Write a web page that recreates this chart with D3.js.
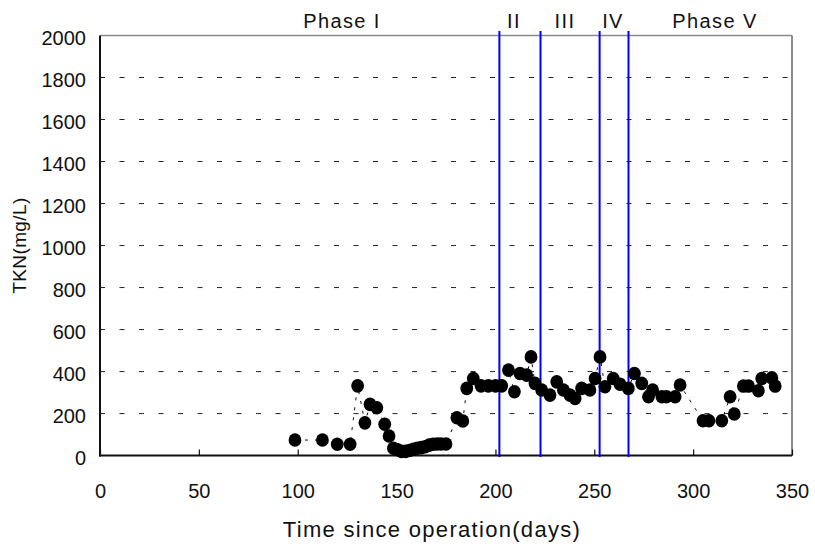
<!DOCTYPE html>
<html>
<head>
<meta charset="utf-8">
<script src="https://cdn.jsdelivr.net/npm/d3@7"></script>
<style>
  html, body { margin: 0; padding: 0; background: #fff; }
  svg { display: block; }
  text { font-family: "Liberation Sans", Arial, sans-serif; fill: #111; }
</style>
</head>
<body>
<svg id="chart" width="815" height="546"></svg>
<script>
// Days since start of operation for each TKN sample
const days = [
  98.6, 112.5, 120, 126.5, 130.3, 134, 136.6, 140, 144, 146.2, 148.4,
  150.5, 152.5, 154.5, 156.5, 158.5, 160.5, 162.5, 164.5, 166.5, 168.5, 170.5, 172.5, 175,
  180.5, 183.5, 185.5, 188.8, 192.7, 196.4, 200, 203.2, 206.6, 209.6, 212.4, 215.8, 218,
  220, 223.4, 227.6, 231, 234.4, 237.7, 240.3, 243.6, 247.8, 250.4, 252.9, 255.4, 259.6,
  263, 267.2, 270.3, 274, 277.4, 279.5, 284.2, 286.5, 290.9, 293.4,
  305, 308, 314.5, 318.7, 320.8, 325.4, 328, 333, 334.7, 339.8, 341.5
];
// Measured TKN (mg/L)
const tkn = [
  74, 74, 54, 54, 332, 156, 244, 228, 149, 93, 35,
  28, 20, 20, 24, 30, 35, 38, 42, 50, 54, 55, 55, 55,
  180, 165, 320, 367, 332, 332, 332, 332, 407, 304, 391, 383, 470,
  344, 312, 288, 351, 312, 288, 272, 320, 312, 367, 470, 328, 367,
  340, 320, 391, 344, 280, 312, 280, 280, 280, 336,
  166, 166, 166, 280, 198, 331, 331, 309, 367, 370, 331
];
// Boundaries between operating phases (days)
const phaseBounds = [202, 222.8, 252.7, 267.3];
const phaseNames = ["Phase I", "II", "III", "IV", "Phase V"];
const phaseLabelX = [342, 514, 565, 613, 715];
const xTicks = [0, 50, 100, 150, 200, 250, 300, 350];
const yTicks = [0, 200, 400, 600, 800, 1000, 1200, 1400, 1600, 1800, 2000];

const svg = d3.select("#chart");
const plotL = 100, plotR = 792, plotT = 35.5, plotB = 455.6;

const x = d3.scaleLinear().domain([0, 350]).range([plotL, plotR]);
const y = d3.scaleLinear().domain([0, 2000]).range([plotB, plotT]);

// Dashed horizontal gridlines (they start with the inward tick at the axis)
svg.append("g")
  .selectAll("line")
  .data(yTicks.filter(v => v > 0 && v < 2000))
  .join("line")
  .attr("x1", plotL).attr("x2", plotR)
  .attr("y1", d => y(d)).attr("y2", d => y(d))
  .attr("stroke", "#222").attr("stroke-width", 1)
  .attr("stroke-dasharray", "5,14.5");

// Frame: grey top and right, black left and bottom
svg.append("line").attr("x1", plotL).attr("x2", plotR).attr("y1", plotT).attr("y2", plotT)
  .attr("stroke", "#8a8a8a").attr("stroke-width", 1.5);
svg.append("line").attr("x1", plotR).attr("x2", plotR).attr("y1", plotT).attr("y2", plotB)
  .attr("stroke", "#8a8a8a").attr("stroke-width", 2);

// X axis with inward ticks
const xAxis = d3.axisBottom(x).tickValues(xTicks).tickSize(-6)
  .tickFormat(d3.format("d"));
const gx = svg.append("g").attr("transform", `translate(0,${plotB})`).call(xAxis);
gx.select(".domain").remove();
gx.selectAll(".tick line").attr("stroke", "#111").attr("stroke-width", 1.2);
gx.selectAll(".tick text").attr("font-size", 20).attr("y", 42).attr("dy", 0)
  .attr("font-family", "'Liberation Sans', Arial, sans-serif").attr("fill", "#111");

// Y axis labels
const yAxis = d3.axisLeft(y).tickValues(yTicks).tickSize(0).tickPadding(14)
  .tickFormat(d3.format("d"));
const gy = svg.append("g").attr("transform", `translate(${plotL},0)`).call(yAxis);
gy.select(".domain").remove();
gy.selectAll(".tick text").attr("font-size", 20).attr("dy", "0.45em")
  .attr("font-family", "'Liberation Sans', Arial, sans-serif").attr("fill", "#111");

svg.append("line").attr("x1", plotL).attr("x2", plotL).attr("y1", plotT).attr("y2", plotB + 1)
  .attr("stroke", "#111").attr("stroke-width", 2);
svg.append("line").attr("x1", plotL - 1).attr("x2", plotR).attr("y1", plotB).attr("y2", plotB)
  .attr("stroke", "#111").attr("stroke-width", 2);

// Phase boundaries
svg.append("g").selectAll("line").data(phaseBounds).join("line")
  .attr("x1", d => x(d)).attr("x2", d => x(d))
  .attr("y1", 31).attr("y2", plotB + 1.5)
  .attr("stroke", "#0000ff").attr("stroke-width", 2);

// Phase names
svg.append("g").selectAll("text").data(phaseNames).join("text")
  .attr("x", (d, i) => phaseLabelX[i]).attr("y", 28)
  .attr("text-anchor", "middle").attr("font-size", 20)
  .attr("letter-spacing", 1.4)
  .text(d => d);

// Thin dashed line joining the samples
const pts = days.map((d, i) => [d, tkn[i]]);
svg.append("path")
  .datum(pts)
  .attr("d", d3.line().x(d => x(d[0])).y(d => y(d[1])))
  .attr("fill", "none").attr("stroke", "#111").attr("stroke-width", 1)
  .attr("stroke-dasharray", "3,7");

// Sample markers
svg.append("g").selectAll("ellipse").data(pts).join("ellipse")
  .attr("cx", d => x(d[0])).attr("cy", d => y(d[1]))
  .attr("rx", 6.4).attr("ry", 6.8)
  .attr("fill", "#000");

// Axis titles
svg.append("text").attr("x", 432).attr("y", 537)
  .attr("text-anchor", "middle").attr("font-size", 22)
  .attr("letter-spacing", 1.3)
  .text("Time since operation(days)");
svg.append("text")
  .attr("transform", `translate(26,${(plotT + plotB) / 2}) rotate(-90)`)
  .attr("text-anchor", "middle").attr("font-size", 19)
  .attr("letter-spacing", 0.4)
  .text("TKN(mg/L)");
</script>
</body>
</html>
